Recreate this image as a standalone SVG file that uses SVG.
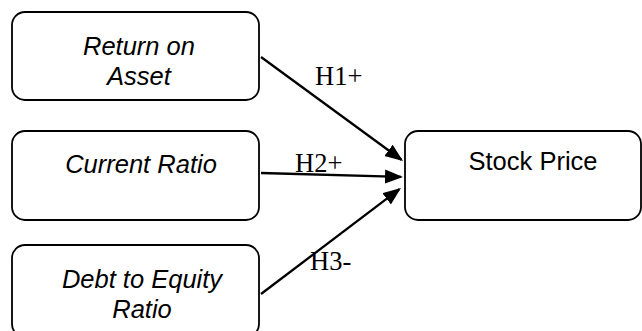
<svg xmlns="http://www.w3.org/2000/svg" width="642" height="331" viewBox="0 0 642 331">
  <style>
    .box { fill: #ffffff; stroke: #000000; stroke-width: 1.8; }
    .lbl { font-family: "Liberation Sans", Arial, sans-serif; font-size: 25.5px; fill: #000000; text-anchor: middle; }
    .it { font-style: italic; }
    .hyp { font-family: "Liberation Serif", "Times New Roman", serif; font-size: 26.5px; fill: #000000; }
    .conn { stroke: #000000; stroke-width: 2.3; fill: none; }
  </style>
  <defs>
    <marker id="arrow" markerUnits="userSpaceOnUse" markerWidth="20" markerHeight="15" refX="16" refY="7" orient="auto">
      <path d="M0,0 L18,7 L0,14 Z" fill="#000000"/>
    </marker>
  </defs>
  <rect width="642" height="331" fill="#ffffff"/>

  <g id="node-roa">
    <rect class="box" x="12" y="12" width="247" height="88" rx="13" ry="13"/>
    <text class="lbl it" x="139" y="55">Return on</text>
    <text class="lbl it" x="139" y="85">Asset</text>
  </g>

  <g id="node-cr">
    <rect class="box" x="12" y="131" width="247" height="89" rx="13" ry="13"/>
    <text class="lbl it" x="141" y="173">Current Ratio</text>
  </g>

  <g id="node-der">
    <rect class="box" x="12" y="245" width="247" height="92" rx="13" ry="13"/>
    <text class="lbl it" x="142" y="288">Debt to Equity</text>
    <text class="lbl it" x="142" y="318">Ratio</text>
  </g>

  <g id="node-sp">
    <rect class="box" x="405" y="131" width="236" height="89" rx="13" ry="13"/>
    <text class="lbl" x="533" y="170">Stock Price</text>
  </g>

  <g id="connectors">
    <line class="conn" x1="261" y1="57" x2="401.4" y2="159.8" marker-end="url(#arrow)"/>
    <line class="conn" x1="261" y1="173" x2="401" y2="176.9" marker-end="url(#arrow)"/>
    <line class="conn" x1="261" y1="294" x2="399.4" y2="189.2" marker-end="url(#arrow)"/>
    <text class="hyp" x="315" y="85">H1+</text>
    <text class="hyp" x="295" y="172">H2+</text>
    <text class="hyp" x="310" y="270">H3-</text>
  </g>
</svg>
